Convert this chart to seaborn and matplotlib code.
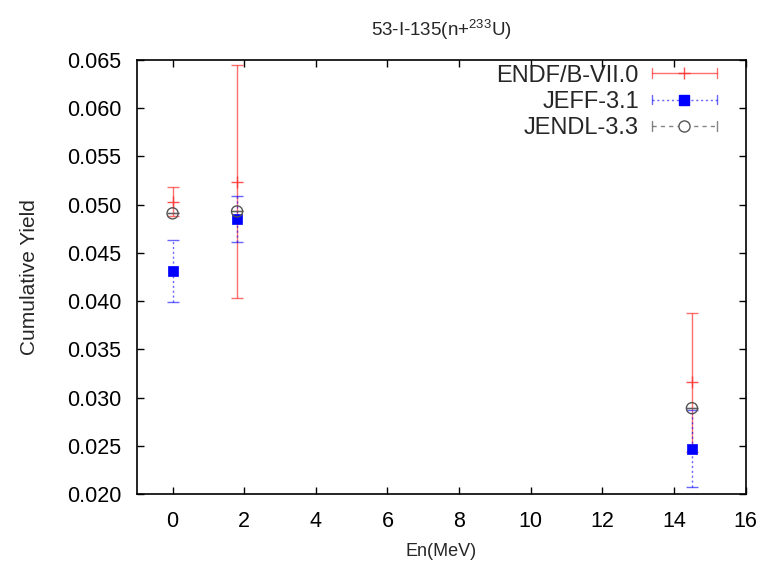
import matplotlib
matplotlib.use("Agg")
import matplotlib.pyplot as plt
import seaborn as sns
import pandas as pd
from matplotlib.lines import Line2D
from matplotlib.legend_handler import HandlerBase
from matplotlib.ticker import FormatStrFormatter, MultipleLocator

# ---- data ----
energy = [0.0, 1.8, 14.5]
endf_y = [0.0503, 0.0524, 0.0316]
endf_err = [0.0015, 0.0121, 0.0072]
jeff_y = [0.0431, 0.0485, 0.0247]
jeff_err = [0.0032, 0.0024, 0.0040]
jendl_y = [0.0491, 0.0493, 0.0289]
jendl_err = [0.0, 0.0, 0.0]
labels = ["ENDF/B-VII.0", "JEFF-3.1", "JENDL-3.3"]
title = "53-I-135(n+$^{233}$U)"
xlabel = "En(MeV)"
ylabel = "Cumulative Yield"

sns.set_style("ticks")
plt.rcParams["font.family"] = ["Liberation Sans", "DejaVu Sans"]
plt.rcParams["mathtext.fontset"] = "custom"
plt.rcParams["mathtext.rm"] = "Liberation Sans"

fig = plt.figure(figsize=(7.64, 5.67), dpi=100)
ax = fig.add_axes([0.179, 0.1287, 0.797, 0.7655])

series = [
    dict(y=endf_y, e=endf_err, color="#ff3030", ls="-", marker="+", ms=8, alpha=0.7, lw=1.0),
    dict(y=jeff_y, e=jeff_err, color="#0000ff", ls=(0, (1.5, 2)), marker="s", ms=7, alpha=0.6, lw=1.0),
    dict(y=jendl_y, e=jendl_err, color="#505050", ls=(0, (3, 3)), marker="o", ms=8, alpha=0.7, lw=1.0),
]


class ErrHandler(HandlerBase):
    def __init__(self, spec):
        super().__init__()
        self.spec = spec

    def create_artists(self, legend, orig_handle, xdescent, ydescent, width, height, fontsize, trans):
        s = self.spec
        y = height / 2.0 - ydescent
        x0, x1 = -xdescent, -xdescent + width
        arts = []
        ln = Line2D([x0, x1], [y, y], color=s["color"], ls=s["ls"], lw=s["lw"], alpha=s["alpha"], transform=trans)
        arts.append(ln)
        for xc in (x0, x1):
            c = Line2D([xc, xc], [y - 3.5, y + 3.5], color=s["color"], lw=s["lw"], alpha=s["alpha"], transform=trans)
            arts.append(c)
        xm = (x0 + x1) / 2.0
        if s["marker"] == "o":
            m = Line2D([xm], [y], ls="none", marker="o", ms=s["ms"], mfc="white", mec="#555555", mew=1.0, transform=trans)
        elif s["marker"] == "+":
            m = Line2D([xm], [y], ls="none", marker="+", ms=s["ms"], color=s["color"], mew=1.0, alpha=0.85, transform=trans)
        else:
            m = Line2D([xm], [y], ls="none", marker="s", ms=s["ms"], color=s["color"], transform=trans)
        arts.append(m)
        return arts


handles = []
hmap = {}
for lab, s in zip(labels, series):
    cont = ax.errorbar(energy, s["y"], yerr=s["e"], fmt="none", ecolor=s["color"],
                       elinewidth=s["lw"], capsize=4, capthick=s["lw"], alpha=s["alpha"])
    for lc in cont.lines[2]:
        lc.set_linestyle(s["ls"])
    df = pd.DataFrame({"x": energy, "y": s["y"]})
    if s["marker"] == "+":
        sns.scatterplot(data=df, x="x", y="y", ax=ax, marker="+", s=s["ms"] ** 2,
                        color=s["color"], linewidth=1.0, alpha=0.85, legend=False, zorder=3)
    elif s["marker"] == "o":
        sns.scatterplot(data=df, x="x", y="y", ax=ax, marker="o", s=s["ms"] ** 2,
                        facecolor="none", edgecolor="#555555", linewidth=1.0, legend=False, zorder=4)
    else:
        sns.scatterplot(data=df, x="x", y="y", ax=ax, marker="s", s=s["ms"] ** 2,
                        color=s["color"], edgecolor=s["color"], linewidth=0.5, legend=False, zorder=3)
    proxy = Line2D([], [])
    handles.append(proxy)
    hmap[proxy] = ErrHandler(s)

leg = ax.legend(handles, labels, handler_map=hmap,
                loc="upper right", bbox_to_anchor=(0.976, 1.022), frameon=False,
                markerfirst=False, fontsize=17, handlelength=2.75, handletextpad=0.55,
                labelspacing=0.18, borderaxespad=0.2)

ax.set_xlim(-1, 16)
ax.set_ylim(0.020, 0.065)
ax.xaxis.set_major_locator(MultipleLocator(2))
ax.yaxis.set_major_locator(MultipleLocator(0.005))
ax.yaxis.set_major_formatter(FormatStrFormatter("%.3f"))
ax.tick_params(direction="in", top=True, right=True, length=5, width=1,
               labelsize=15.5, colors="black")
ax.tick_params(axis="x", pad=12)
ax.tick_params(axis="y", pad=11)
for sp in ax.spines.values():
    sp.set_visible(True)
    sp.set_linewidth(1.2)
    sp.set_color("black")

ax.set_title(title, fontsize=13.5, pad=17)
ax.set_xlabel(xlabel, fontsize=13, labelpad=8)
ax.set_ylabel(ylabel, fontsize=15, labelpad=20)

fig.savefig("out.png", dpi=100, facecolor="white")
